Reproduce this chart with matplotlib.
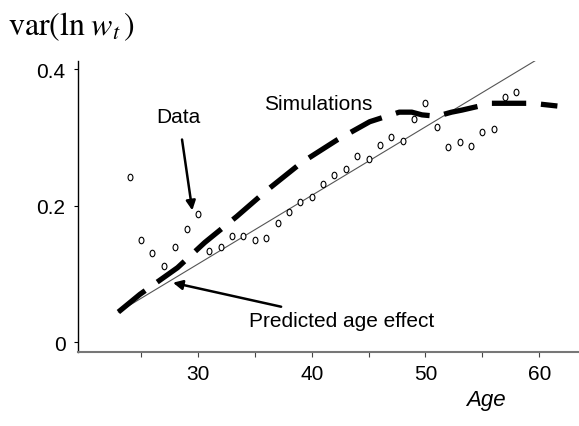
import matplotlib
matplotlib.use("Agg")
import matplotlib.pyplot as plt
from matplotlib.markers import MarkerStyle
from matplotlib.transforms import Affine2D

plt.rcParams['font.family'] = ['Liberation Sans', 'DejaVu Sans']
plt.rcParams['mathtext.fontset'] = 'stix'

# Data points (age, variance of log wages)
data_age = list(range(24, 59))
data_var = [0.242, 0.150, 0.131, 0.112, 0.140, 0.165, 0.187, 0.133, 0.140, 0.155,
            0.156, 0.150, 0.153, 0.174, 0.190, 0.206, 0.213, 0.231, 0.245, 0.254,
            0.272, 0.269, 0.289, 0.301, 0.295, 0.327, 0.350, 0.315, 0.286, 0.293,
            0.288, 0.308, 0.312, 0.359, 0.366]

# Simulations (thick dashed)
sim_age = [23.0, 24.9, 28.2, 30.6, 33.4, 36.1, 39.1, 42.2, 45.1, 47.7, 48.8, 49.7,
           51.0, 52.3, 53.2, 55.8, 56.8, 59.4, 61.6]
sim_var = [0.044, 0.070, 0.109, 0.146, 0.184, 0.223, 0.263, 0.296, 0.323, 0.337,
           0.337, 0.333, 0.331, 0.337, 0.340, 0.350, 0.350, 0.350, 0.346]

# Predicted age effect (thin line)
pred_age = [23.0, 59.7]
pred_var = [0.044, 0.413]

x_ticks = [30, 40, 50, 60]
x_minor = [25, 35, 45, 55]
y_ticks = [0, 0.2, 0.4]
y_labels = ['0', '0.2', '0.4']

fig = plt.figure(figsize=(5.79, 4.27), dpi=100)
ax = fig.add_axes([78/579, 1-353/427, (579-78)/579, (353-62)/427])

ax.plot(pred_age, pred_var, color='#555555', lw=0.8, zorder=2)
ax.plot(sim_age, sim_var, color='black', lw=3.8, dashes=(6.5, 2.8), zorder=3,
        solid_capstyle='butt', dash_capstyle='butt')
oval = MarkerStyle('o', transform=Affine2D().scale(0.75, 1.0))
ax.scatter(data_age, data_var, s=22, facecolors='white', edgecolors='black',
           linewidths=0.8, zorder=4, marker=oval)

ax.set_xlim(19.45, 63.5)
ax.set_ylim(-0.0146, 0.412)

for s in ['top', 'right']:
    ax.spines[s].set_visible(False)
ax.spines['left'].set_color('black')
ax.spines['left'].set_linewidth(1.0)
ax.spines['bottom'].set_color('#777777')
ax.spines['bottom'].set_linewidth(1.5)

ax.set_xticks(x_ticks)
ax.set_xticklabels([str(v) for v in x_ticks], fontsize=15)
ax.set_xticks(x_minor, minor=True)
ax.set_yticks(y_ticks)
ax.set_yticklabels(y_labels, fontsize=15)
ax.tick_params(axis='x', which='both', direction='out', length=3.6, width=0.8, color='#444444', pad=5)
ax.tick_params(axis='y', direction='out', length=3, width=0.8, pad=6)

# Annotations
ax.annotate('Data', xy=(29.5, 0.193), xytext=(28.3, 0.331), fontsize=15,
            ha='center', va='center',
            arrowprops=dict(arrowstyle='-|>', color='black', lw=1.8, mutation_scale=14,
                            shrinkA=8, shrinkB=0))
ax.text(40.6, 0.350, 'Simulations', fontsize=15, ha='center', va='center')
ax.annotate('Predicted age effect', xy=(27.8, 0.087), xytext=(34.5, 0.032), fontsize=15,
            ha='left', va='center',
            arrowprops=dict(arrowstyle='-|>', color='black', lw=1.8, mutation_scale=14,
                            shrinkA=4, shrinkB=0))

fig.text(486/579, 1-401/427, 'Age', fontsize=16, style='italic', ha='center', va='center')
fig.text(8/579, 1-27/427, r'$\mathrm{var}\left(\mathrm{ln}\;w_{t}\,\right)$', fontsize=23,
         ha='left', va='center')

fig.savefig('out.png', dpi=100)
